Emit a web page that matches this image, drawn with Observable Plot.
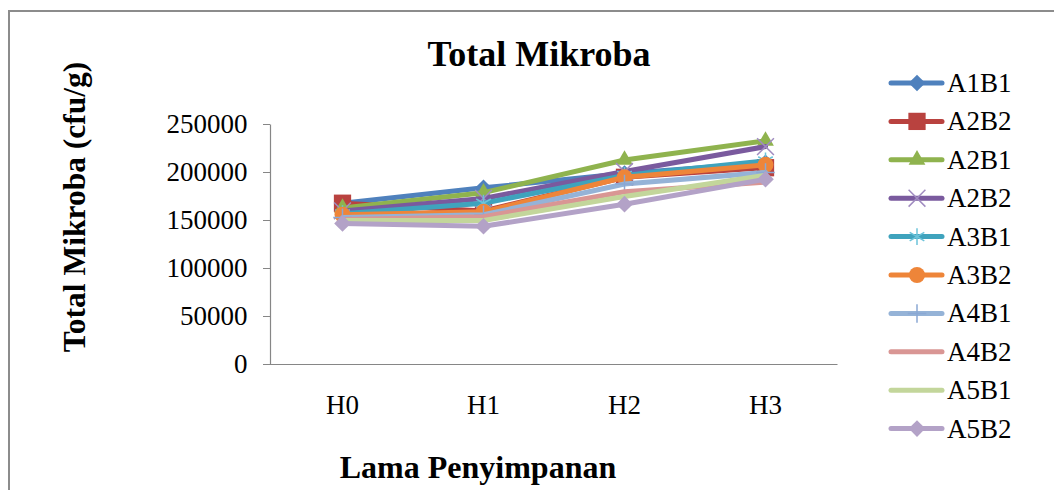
<!DOCTYPE html>
<html><head><meta charset="utf-8">
<script src="https://cdn.jsdelivr.net/npm/d3@7"></script>
<script src="https://cdn.jsdelivr.net/npm/@observablehq/plot@0.6"></script>
<style>
html,body{margin:0;padding:0;background:#fff;}
#wrap{position:relative;width:1054px;height:490px;overflow:hidden;background:#fff;}
#wrap svg{position:absolute;left:0;top:0;}
#border{position:absolute;left:8px;top:10px;width:1100px;height:600px;border-top:2px solid #8c8c8c;border-left:2px solid #8c8c8c;}
</style></head><body><div id="wrap"><div id="border"></div></div>
<script>
// ---- data ----
const days = ["H0", "H1", "H2", "H3"];
const seriesNames = ["A1B1", "A2B2", "A2B1", "A2B2", "A3B1", "A3B2", "A4B1", "A4B2", "A5B1", "A5B2"];
const valA1B1 = [168000, 184000, 199000, 210000];
const valA2B2a = [168000, 160000, 195000, 205000];
const valA2B1 = [163000, 179000, 213000, 233000];
const valA2B2b = [160000, 173000, 201000, 227000];
const valA3B1 = [157000, 168000, 197000, 212000];
const valA3B2 = [156000, 159000, 195000, 208000];
const valA4B1 = [153000, 156000, 188000, 200000];
const valA4B2 = [151000, 154000, 180000, 190000];
const valA5B1 = [150000, 150000, 175000, 197000];
const valA5B2 = [147000, 144000, 167000, 193000];
const yTicks = [0, 50000, 100000, 150000, 200000, 250000];
const titleText = "Total Mikroba";
const yLabel = "Total Mikroba (cfu/g)";
const xLabel = "Lama Penyimpanan";

// ---- styles ----
const seriesValues = [valA1B1, valA2B2a, valA2B1, valA2B2b, valA3B1, valA3B2, valA4B1, valA4B2, valA5B1, valA5B2];
const colors = ["#4F81BD", "#B9423F", "#8FB34E", "#7A5A9E", "#3FA3BD", "#EE8539", "#95B3D7", "#D99694", "#C3D69B", "#B3A2C7"];
const symbols = ["diamond2", "square2", "triangle2", "times", "asterisk", "circle", "plus", null, null, "diamond2"];
const filled = [true, true, true, false, false, true, false, false, false, true];
const markerColors = ["#4F81BD", "#B9423F", "#8FB34E", "#A08CC0", "#6CC3DA", "#EE8539", "#8AA8D4", null, null, "#B3A2C7"];
const radii = [7.5, 11, 8, 7.7, 8, 8, 6, 0, 0, 7.5];
const d3Sym = {diamond2: d3.symbolDiamond2, square2: d3.symbolSquare2, triangle2: d3.symbolTriangle2, times: d3.symbolTimes, asterisk: d3.symbolAsterisk, circle: d3.symbolCircle, plus: d3.symbolPlus};

const data = seriesValues.flatMap((vals, i) => vals.map((v, j) => ({series: i, name: seriesNames[i], day: days[j], value: v})));

const axisGray = "#868686";
const serif = "'Liberation Serif', 'Times New Roman', serif";

const marks = [
  Plot.frame({stroke: axisGray, strokeWidth: 1.2, strokeDasharray: "0,807,807"}),
  Plot.axisY({ticks: yTicks, tickSize: 7, tickPadding: 16, tickFormat: d3.format("d"), stroke: axisGray, fill: "black", fontSize: 27, label: null}),
  Plot.axisX({tickSize: 0, tickPadding: 30, fill: "black", fontSize: 27, label: null})
];
seriesValues.forEach((vals, i) => {
  const d = data.filter(r => r.series === i);
  marks.push(Plot.line(d, {x: "day", y: "value", stroke: colors[i], strokeWidth: 5, strokeLinecap: "round", strokeLinejoin: "round"}));
  if (symbols[i]) {
    marks.push(Plot.dot(d, {x: "day", y: "value", symbol: symbols[i], r: radii[i],
      fill: filled[i] ? markerColors[i] : "none", stroke: filled[i] ? "none" : markerColors[i], strokeWidth: 1.5}));
  }
});

const chart = Plot.plot({
  width: 1054, height: 490,
  marginLeft: 270, marginRight: 217, marginTop: 124, marginBottom: 126,
  x: {type: "point", domain: days, padding: 0.5},
  y: {domain: [0, 250000]},
  style: {fontFamily: serif, fontSize: "27px", background: "transparent", color: "black", overflow: "visible"},
  marks
});
const wrap = document.getElementById("wrap");
wrap.appendChild(chart);

// ---- overlay: title, axis titles, legend ----
const ov = d3.select(wrap).append("svg").attr("width", 1054).attr("height", 490)
  .style("font-family", serif).style("pointer-events", "none");
ov.append("text").attr("x", 539).attr("y", 66).attr("text-anchor", "middle")
  .attr("font-size", 36).attr("font-weight", "bold").text(titleText);
ov.append("text").attr("transform", "translate(85,207) rotate(-90)").attr("text-anchor", "middle")
  .attr("font-size", 31.5).attr("font-weight", "bold").text(yLabel);
ov.append("text").attr("x", 478).attr("y", 478).attr("text-anchor", "middle")
  .attr("font-size", 32).attr("font-weight", "bold").text(xLabel);

const lg = ov.append("g");
seriesNames.forEach((name, i) => {
  const y = 83 + 38.4 * i;
  lg.append("line").attr("x1", 891).attr("x2", 942).attr("y1", y).attr("y2", y)
    .attr("stroke", colors[i]).attr("stroke-width", 5).attr("stroke-linecap", "round");
  if (symbols[i]) {
    lg.append("path").attr("transform", `translate(917,${y})`)
      .attr("d", d3.symbol(d3Sym[symbols[i]], Math.PI * radii[i] * radii[i])())
      .attr("fill", filled[i] ? markerColors[i] : "none")
      .attr("stroke", filled[i] ? "none" : markerColors[i]).attr("stroke-width", 1.5);
  }
  lg.append("text").attr("x", 947).attr("y", y + 9).attr("font-size", 27).text(name);
});
</script></body></html>
